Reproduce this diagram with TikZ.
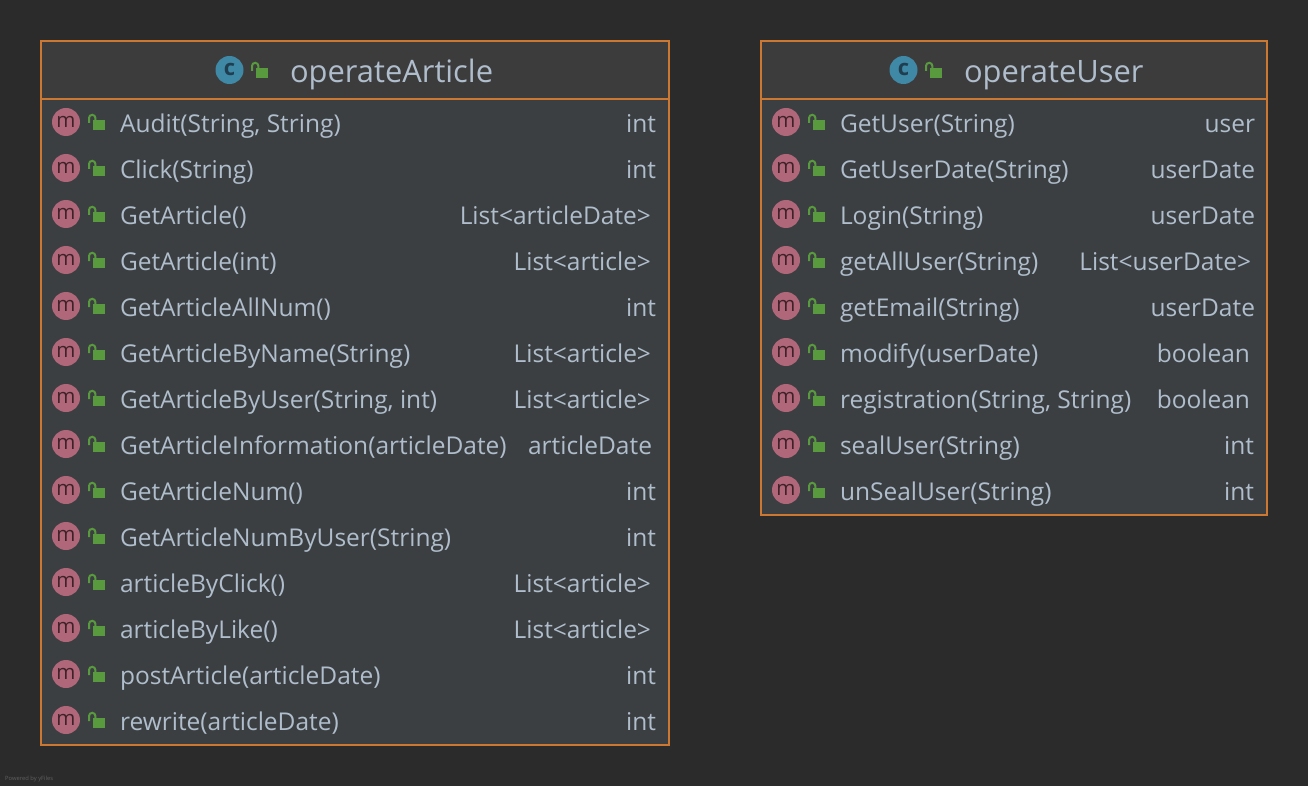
\documentclass[tikz,border=0pt]{standalone}
\usepackage{fontspec}
\setmainfont{Open Sans}
\definecolor{bgc}{HTML}{2B2B2B}
\definecolor{bodyc}{HTML}{3C3F41}
\definecolor{headc}{HTML}{3C3C3C}
\definecolor{edgec}{HTML}{CC7832}
\definecolor{textc}{HTML}{AFBDCC}
\definecolor{mfill}{HTML}{B0677A}
\definecolor{mtext}{HTML}{3F2229}
\definecolor{cfill}{HTML}{3F88A6}
\definecolor{ctext}{HTML}{1F3F50}
\definecolor{lockc}{HTML}{5A9A3F}
\tikzset{
  x=1pt,y=-1pt,
  lbl/.style={inner sep=0pt,outer sep=0pt,text=textc,font=\fontsize{24.5}{28}\selectfont},
  name lbl/.style={lbl,anchor=base west},
  type lbl/.style={lbl,anchor=base east},
  title lbl/.style={inner sep=0pt,outer sep=0pt,text=textc,anchor=base west,font=\fontsize{30.9}{34}\selectfont},
  mbadge/.style={circle,fill=mfill,minimum size=28pt,inner sep=0pt,text=mtext,font=\fontsize{20.5}{20}\selectfont},
  cbadge/.style={circle,fill=cfill,minimum size=28pt,inner sep=0pt,text=ctext,font=\fontsize{22}{20}\bfseries\selectfont},
  classbox/.style={draw=edgec,line width=2pt,fill=bodyc},
}
\newcommand{\lockicon}[2]{%
  \fill[lockc] (#1+5,#2-1) rectangle (#1+16.5,#2+9);
  \draw[lockc,line width=2pt] (#1+1,#2+2) -- (#1+1,#2-3) arc[start angle=180,end angle=360,radius=3.2] -- (#1+7.4,#2-1);
}
\newcommand{\classrow}[5]{% x-left, row index, name, right edge, type
  \pgfmathsetmacro{\ry}{123+46*#2}
  \pgfmathsetmacro{\rb}{\ry+9.3}
  \pgfmathsetmacro{\cx}{#1+25}
  \pgfmathsetmacro{\lx}{#1+47}
  \pgfmathsetmacro{\tx}{#1+79}
  \node[mbadge] (m#1r#2) at (\cx,\ry-1) {\raisebox{-1pt}{m}};
  \lockicon{\lx}{\ry-2}
  \node[name lbl] (n#1r#2) at (\tx,\rb) {#3};
  \node[type lbl] (t#1r#2) at (#4,\rb) {#5};
}
\begin{document}
\begin{tikzpicture}
\useasboundingbox (0,0) rectangle (1308,786);
\fill[bgc] (0,0) rectangle (1308,786);
% operateArticle
\draw[classbox] (41,41) rectangle (669,745);
\fill[headc] (42,42) rectangle (668,98);
\draw[edgec,line width=2pt] (41,99) -- (669,99);
\node[cbadge] (cA) at (229.5,70) {\raisebox{1pt}{c}};
\lockicon{251}{69}
\node[title lbl] (tA) at (290,82.5) {operateArticle};
\classrow{41}{0}{Audit(String, String)}{656}{int}
\classrow{41}{1}{Click(String)}{656}{int}
\classrow{41}{2}{GetArticle()}{651}{List<articleDate>}
\classrow{41}{3}{GetArticle(int)}{651}{List<article>}
\classrow{41}{4}{GetArticleAllNum()}{656}{int}
\classrow{41}{5}{GetArticleByName(String)}{651}{List<article>}
\classrow{41}{6}{GetArticleByUser(String, int)}{651}{List<article>}
\classrow{41}{7}{GetArticleInformation(articleDate)}{652}{articleDate}
\classrow{41}{8}{GetArticleNum()}{656}{int}
\classrow{41}{9}{GetArticleNumByUser(String)}{656}{int}
\classrow{41}{10}{articleByClick()}{651}{List<article>}
\classrow{41}{11}{articleByLike()}{651}{List<article>}
\classrow{41}{12}{postArticle(articleDate)}{656}{int}
\classrow{41}{13}{rewrite(articleDate)}{656}{int}
% operateUser
\draw[classbox] (761,41) rectangle (1267,515);
\fill[headc] (762,42) rectangle (1266,98);
\draw[edgec,line width=2pt] (761,99) -- (1267,99);
\node[cbadge] (cU) at (903.5,70) {\raisebox{1pt}{c}};
\lockicon{925}{69}
\node[title lbl] (tU) at (964,82.5) {operateUser};
\classrow{761}{0}{GetUser(String)}{1255}{user}
\classrow{761}{1}{GetUserDate(String)}{1255}{userDate}
\classrow{761}{2}{Login(String)}{1255}{userDate}
\classrow{761}{3}{getAllUser(String)}{1251}{List<userDate>}
\classrow{761}{4}{getEmail(String)}{1255}{userDate}
\classrow{761}{5}{modify(userDate)}{1250}{boolean}
\classrow{761}{6}{registration(String, String)}{1250}{boolean}
\classrow{761}{7}{sealUser(String)}{1254}{int}
\classrow{761}{8}{unSealUser(String)}{1254}{int}
\node[inner sep=0pt,anchor=base west,text=bgc!75!white,font=\fontsize{5.8}{8}\selectfont] (pw) at (5,780) {Powered by yFiles};
\end{tikzpicture}
\end{document}
